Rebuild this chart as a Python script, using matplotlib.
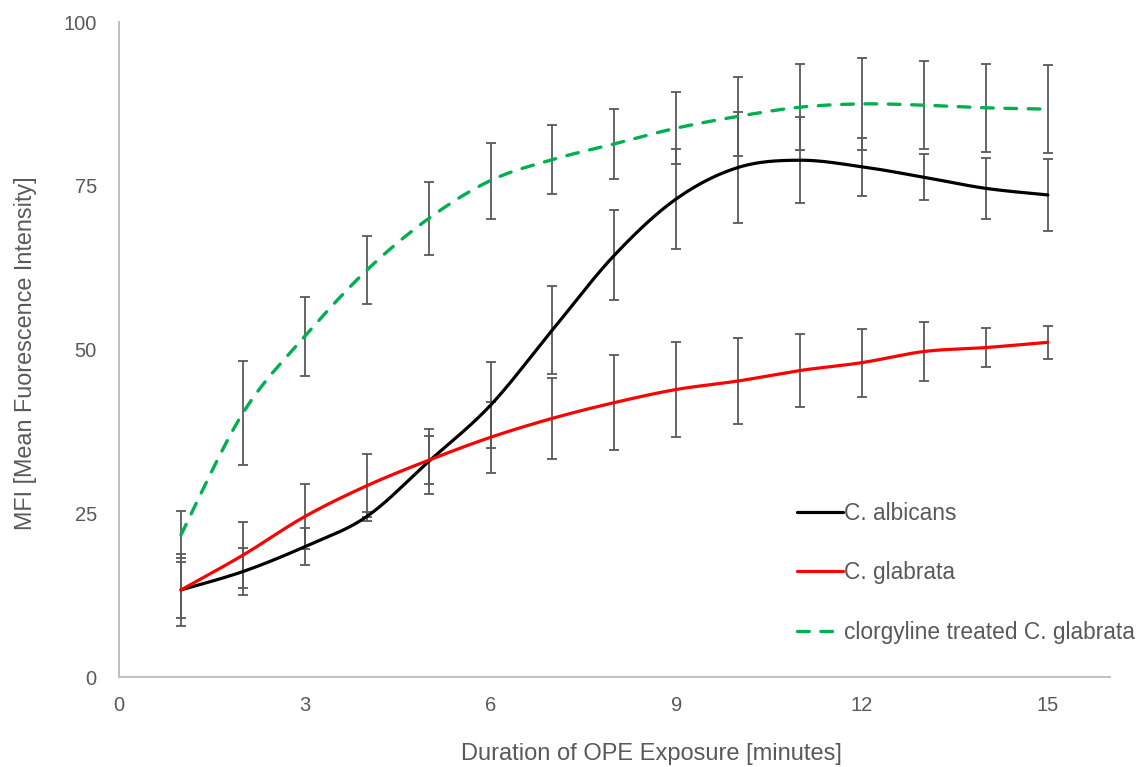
import numpy as np
import matplotlib
matplotlib.use("Agg")
import matplotlib.pyplot as plt

# minutes of OPE exposure
minutes = np.arange(1, 16)

# mean fluorescence intensity
albicans = [13.3, 16.1, 19.9, 24.5, 32.9, 41.5, 53.0, 64.4, 73.0, 77.8, 78.9, 77.9, 76.3, 74.6, 73.6]
albicans_err = [5.5, 3.6, 2.8, 0.7, 5.0, 6.6, 6.7, 6.9, 7.6, 8.5, 6.6, 4.4, 3.5, 4.6, 5.5]

glabrata = [13.3, 18.6, 24.5, 29.2, 33.1, 36.6, 39.5, 41.9, 43.9, 45.2, 46.8, 48.0, 49.7, 50.3, 51.1]
glabrata_err = [4.3, 5.0, 4.9, 4.8, 3.7, 5.4, 6.2, 7.2, 7.3, 6.6, 5.6, 5.2, 4.5, 3.0, 2.5]

treated = [21.7, 40.3, 52.0, 62.1, 70.0, 75.8, 79.0, 81.4, 83.8, 85.6, 87.0, 87.5, 87.3, 86.9, 86.7]
treated_err = [3.6, 8.0, 6.0, 5.2, 5.6, 5.8, 5.3, 5.3, 5.5, 6.0, 6.6, 7.0, 6.7, 6.7, 6.7]

labels = ["C. albicans", "C. glabrata", "clorgyline treated C. glabrata"]
colors = ["#000000", "#ff0000", "#00b050"]

grey = "#595959"
plt.rcParams['font.family'] = ['Liberation Sans', 'DejaVu Sans']


def smooth(x, y, n=30):
    # Excel-style smoothed line: Catmull-Rom segments as cubic Bezier
    x = np.asarray(x, float)
    y = np.asarray(y, float)
    px = np.concatenate([[x[0]], x, [x[-1]]])
    py = np.concatenate([[y[0]], y, [y[-1]]])
    t = np.linspace(0, 1, n)[:, None]
    xs, ys = [], []
    for i in range(1, len(px) - 2):
        p0 = np.array([px[i], py[i]])
        p3 = np.array([px[i + 1], py[i + 1]])
        c1 = p0 + (p3 - np.array([px[i - 1], py[i - 1]])) / 6
        c2 = p3 - (np.array([px[i + 2], py[i + 2]]) - p0) / 6
        b = ((1 - t) ** 3) * p0 + 3 * ((1 - t) ** 2) * t * c1 + 3 * (1 - t) * t ** 2 * c2 + t ** 3 * p3
        xs.append(b[:, 0])
        ys.append(b[:, 1])
    return np.concatenate(xs), np.concatenate(ys)


fig = plt.figure(figsize=(11.37, 7.67), dpi=100)
ax = fig.add_axes([0.1047, 0.1173, 0.8713, 0.854])

series = [(albicans, albicans_err), (glabrata, glabrata_err), (treated, treated_err)]
for (vals, errs), lab, col in zip(series, labels, colors):
    ax.errorbar(minutes, vals, yerr=errs, fmt='none', ecolor=grey, elinewidth=1.3,
                capsize=3.4, capthick=1.3, zorder=2)
    sx, sy = smooth(minutes, vals)
    if lab.startswith('clorgyline'):
        ax.plot(sx, sy, color=col, lw=2.4, linestyle=(0, (3.5, 3.5)),
                dash_capstyle='round', label=lab, zorder=3)
    else:
        ax.plot(sx, sy, color=col, lw=2.3, label=lab, zorder=3,
                solid_capstyle='round')

ax.set_xlim(0, 16)
ax.set_ylim(0, 100)
ax.set_xticks([0, 3, 6, 9, 12, 15])
ax.set_yticks([0, 25, 50, 75, 100])

for s in ['top', 'right']:
    ax.spines[s].set_visible(False)
for s in ['left', 'bottom']:
    ax.spines[s].set_color('#bfbfbf')
    ax.spines[s].set_linewidth(1.4)

ax.tick_params(axis='both', length=0, labelsize=14.5, labelcolor=grey)
ax.tick_params(axis='y', pad=16)
ax.tick_params(axis='x', pad=14)

ax.set_xlabel('Duration of OPE Exposure [minutes]', fontsize=17, color=grey, labelpad=20)
ax.set_ylabel('MFI [Mean Fuorescence Intensity]', fontsize=16.8, color=grey, labelpad=19)
ax.xaxis.label.set_x(0.537)
ax.yaxis.label.set_y(0.495)

leg = ax.legend(loc='upper left', bbox_to_anchor=(797 / 1137, 1 - 502 / 767),
                bbox_transform=fig.transFigure, frameon=False, fontsize=16.4,
                handlelength=2.0, handletextpad=0.05, labelspacing=1.6,
                borderpad=0, borderaxespad=0)
for t in leg.get_texts():
    t.set_color(grey)

fig.savefig('out.png', dpi=100)
